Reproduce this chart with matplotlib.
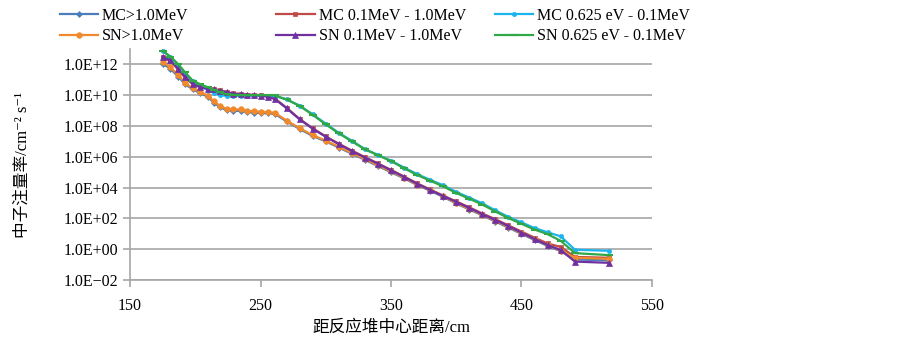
import matplotlib.pyplot as plt
import numpy as np

# distance from reactor centre (cm)
distance = [175, 181, 187, 192, 198, 204, 210, 214, 219, 224, 229, 235, 240, 245, 250, 256, 261,
            270, 280, 290, 300, 310, 320, 330, 340, 350, 360, 370, 380, 390, 400, 410, 420, 430,
            440, 450, 460, 470, 480, 491, 517]

# log10 of flux
mc_fast = [12.05, 11.7, 11.2, 10.72, 10.38, 10.12, 9.88, 9.52, 9.22, 9.02, 8.98, 8.98, 8.9, 8.87, 8.84,
           8.82, 8.78, 8.3, 7.8, 7.35, 7.0, 6.6, 6.2, 5.8, 5.4, 5.0, 4.6, 4.17, 3.8, 3.4, 2.97, 2.58,
           2.2, 1.8, 1.4, 1.0, 0.6, 0.22, -0.12, -0.66, -0.72]
sn_fast = [12.15, 11.8, 11.3, 10.8, 10.45, 10.2, 9.95, 9.6, 9.3, 9.1, 9.07, 9.07, 8.98, 8.95, 8.92,
           8.9, 8.85, 8.35, 7.85, 7.4, 7.05, 6.65, 6.25, 5.85, 5.45, 5.05, 4.65, 4.2, 3.85, 3.45,
           3.0, 2.62, 2.25, 1.85, 1.45, 1.05, 0.65, 0.28, -0.08, -0.55, -0.62]
mc_mid = [12.45, 12.2, 11.65, 11.15, 10.72, 10.5, 10.42, 10.4, 10.32, 10.2, 10.12, 10.08, 10.04, 10.02,
          10.0, 9.92, 9.78, 9.18, 8.45, 7.85, 7.32, 6.85, 6.4, 5.98, 5.57, 5.15, 4.72, 4.28, 3.88,
          3.48, 3.1, 2.72, 2.32, 1.95, 1.55, 1.15, 0.75, 0.38, 0.15, -0.5, -0.55]
sn_mid = [12.5, 12.25, 11.7, 11.2, 10.75, 10.52, 10.4, 10.38, 10.3, 10.18, 10.1, 10.05, 10.02, 10.0,
          9.97, 9.88, 9.75, 9.15, 8.43, 7.82, 7.3, 6.82, 6.38, 5.95, 5.55, 5.12, 4.7, 4.25, 3.85,
          3.45, 3.08, 2.68, 2.28, 1.9, 1.5, 1.08, 0.66, 0.28, -0.05, -0.8, -0.88]
mc_epi = [12.85, 12.48, 11.95, 11.45, 10.9, 10.6, 10.3, 10.15, 10.0, 9.95, 9.95, 9.95, 9.95, 9.95,
          9.95, 9.95, 9.95, 9.72, 9.32, 8.75, 8.15, 7.55, 7.04, 6.5, 6.12, 5.75, 5.3, 4.88, 4.5,
          4.15, 3.72, 3.35, 2.98, 2.52, 2.1, 1.74, 1.38, 1.1, 0.84, -0.03, -0.1]
sn_epi = [12.88, 12.5, 12.0, 11.5, 10.95, 10.7, 10.5, 10.35, 10.18, 10.05, 10.02, 10.0, 10.0, 10.0,
          10.0, 10.0, 9.98, 9.72, 9.3, 8.72, 8.1, 7.52, 7.0, 6.48, 6.1, 5.72, 5.26, 4.82, 4.45,
          4.08, 3.65, 3.28, 2.9, 2.45, 2.02, 1.65, 1.28, 0.98, 0.55, -0.25, -0.38]

y_ticks = [1e-2, 1e0, 1e2, 1e4, 1e6, 1e8, 1e10, 1e12]
y_tick_labels = ["1.0E\u221202", "1.0E+00", "1.0E+02", "1.0E+04", "1.0E+06", "1.0E+08", "1.0E+10", "1.0E+12"]
x_ticks = [150, 250, 350, 450, 550]

plt.rcParams['font.family'] = ["Liberation Serif", "Noto Sans CJK SC", "DejaVu Sans"]

fig = plt.figure(figsize=(9.03, 3.42), dpi=100)
ax = fig.add_axes([0.144, 0.181, 0.578, 0.676])

series = [
    ("MC>1.0MeV", mc_fast, "#4a7ebb", "D", 3),
    ("MC 0.1MeV - 1.0MeV", mc_mid, "#be4b48", "s", 3.5),
    ("MC 0.625 eV - 0.1MeV", mc_epi, "#1cb4ef", "o", 3),
    ("SN>1.0MeV", sn_fast, "#f08a2c", "o", 4),
    ("SN 0.1MeV - 1.0MeV", sn_mid, "#7030a0", "^", 4),
    ("SN 0.625 eV - 0.1MeV", sn_epi, "#31a846", "_", 6),
]
handles = []
for label, vals, col, mk, ms in series:
    h, = ax.plot(distance, 10 ** np.array(vals), color=col, marker=mk, markersize=ms,
                 markeredgewidth=1.5 if mk == "_" else 0.5, linewidth=1.6, label=label)
    handles.append(h)

ax.set_yscale("log")
ax.set_ylim(1e-2, 1e13)
ax.set_xlim(150, 550)
ax.set_yticks(y_ticks)
ax.set_yticklabels(y_tick_labels)
ax.minorticks_off()
ax.set_xticks(x_ticks)
ax.yaxis.grid(True, color="#a6a6a6", linewidth=1.2)
ax.set_axisbelow(True)
for side in ["top", "right"]:
    ax.spines[side].set_visible(False)
for side in ["left", "bottom"]:
    ax.spines[side].set_color("#a6a6a6")
    ax.spines[side].set_linewidth(1.2)
ax.tick_params(axis="both", colors="#a6a6a6", width=1.2, length=5, labelcolor="black", labelsize=11.5)
ax.tick_params(axis="x", pad=8)

ax.set_xlabel("距反应堆中心距离/cm", fontsize=12, labelpad=4)
ax.set_ylabel("中子注量率/cm\u207b\u00b2 s\u207b\u00b9", fontsize=12)
ax.yaxis.set_label_coords(-0.19, 0.5)

# Excel places the legend entries on a regular grid: one legend per column
col_x = [0.05, 0.29, 0.532]
for i in range(3):
    fig.legend(handles=[handles[i], handles[i + 3]], loc="upper left",
               bbox_to_anchor=(col_x[i], 1.02), frameon=False, fontsize=11.5,
               handlelength=2.4, handletextpad=0.25, labelspacing=0.3)

fig.savefig("out.png", dpi=100)
